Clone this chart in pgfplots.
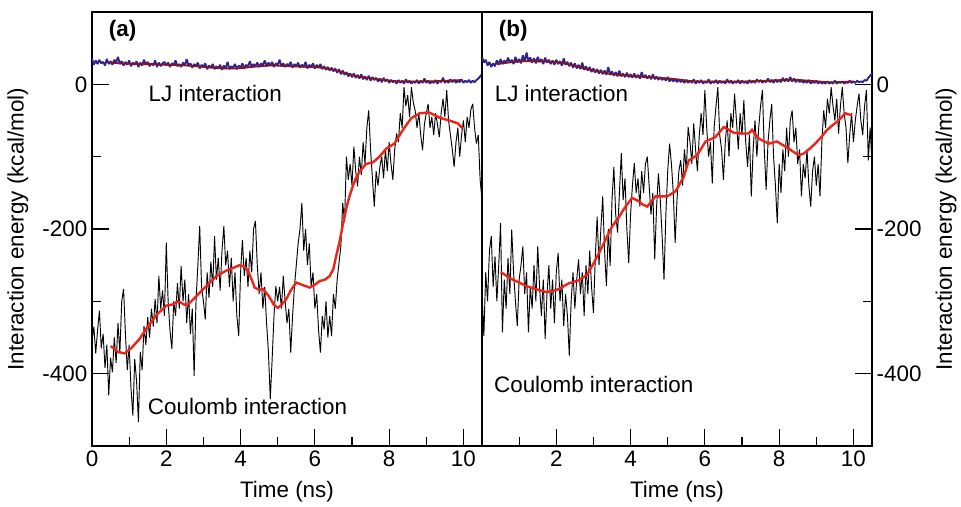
\documentclass[border=0pt]{standalone}
\usepackage{pgfplots}
\pgfplotsset{compat=1.18}
\usepackage{fontspec}
\setmainfont{Liberation Sans}
\definecolor{ljblue}{RGB}{52,34,140}
\definecolor{ljred}{RGB}{130,20,40}
\definecolor{coulred}{RGB}{240,35,25}
\pgfplotsset{
  panel/.style={
    width=292.5pt, height=325.5pt, scale only axis,
    xmin=0, xmax=10.5, ymin=-500, ymax=100,
    axis line style={line width=1.1pt},
    tick style={line width=0.9pt, black},
    tick align=inside,
    major tick length=12.5pt, minor tick length=6.5pt,
    minor xtick={1,3,5,7,9},
    ytick={-400,-200,0}, minor ytick={-300,-100},
    font=\fontsize{16.8}{20}\selectfont,
    /pgf/number format/assume math mode=true,
    xlabel={Time (ns)},
    ylabel={Interaction energy (kcal/mol)},
    xlabel style={at={(axis description cs:0.5,-0.106)}, anchor=center},
    clip=true,
  },
  blk/.style={black, line width=0.7pt, line join=bevel},
  lj/.style={ljblue, line width=1.4pt, line join=bevel},
}
\begin{document}
\begin{tikzpicture}
\path (-69pt,-43.5pt) rectangle (651.75pt,334.5pt);
% ---------------- panel (a)
\begin{axis}[panel, at={(0,0)}, anchor=south west,
  xtick={0,2,4,6,8,10}, xtick pos=left, ytick pos=left,
  ylabel style={at={(axis description cs:-0.19,0.5)}, anchor=center, rotate=0}]
\addplot[lj] coordinates {(0.00,36)(0.05,27)(0.10,33)(0.15,28)(0.20,34)(0.25,29)(0.30,31)(0.35,26)(0.40,35)(0.45,28)(0.50,32)(0.55,27)(0.60,34)(0.65,30)(0.70,38)(0.75,28)(0.80,32)(0.85,26)(0.90,31)(0.95,27)(1.00,33)(1.05,25)(1.10,30)(1.15,27)(1.20,32)(1.25,24)(1.30,30)(1.35,26)(1.40,34)(1.45,27)(1.50,31)(1.55,25)(1.60,29)(1.65,26)(1.70,33)(1.75,24)(1.80,30)(1.85,25)(1.90,29)(1.95,31)(2.00,26)(2.05,30)(2.10,24)(2.15,29)(2.20,27)(2.25,33)(2.30,25)(2.35,28)(2.40,24)(2.45,30)(2.50,26)(2.55,35)(2.60,25)(2.65,29)(2.70,23)(2.75,28)(2.80,25)(2.85,30)(2.90,22)(2.95,27)(3.00,24)(3.05,29)(3.10,21)(3.15,26)(3.20,23)(3.25,28)(3.30,21)(3.35,25)(3.40,22)(3.45,27)(3.50,20)(3.55,26)(3.60,22)(3.65,31)(3.70,21)(3.75,25)(3.80,23)(3.85,28)(3.90,21)(3.95,26)(4.00,23)(4.05,29)(4.10,22)(4.15,27)(4.20,24)(4.25,32)(4.30,24)(4.35,28)(4.40,25)(4.45,30)(4.50,24)(4.55,29)(4.60,26)(4.65,33)(4.70,25)(4.75,30)(4.80,26)(4.85,31)(4.90,24)(4.95,29)(5.00,27)(5.05,34)(5.10,25)(5.15,29)(5.20,24)(5.25,28)(5.30,26)(5.35,31)(5.40,23)(5.45,28)(5.50,25)(5.55,30)(5.60,23)(5.65,27)(5.70,24)(5.75,31)(5.80,22)(5.85,27)(5.90,24)(5.95,29)(6.00,22)(6.05,27)(6.10,23)(6.15,28)(6.20,21)(6.25,25)(6.30,20)(6.35,24)(6.40,19)(6.45,23)(6.50,18)(6.55,22)(6.60,16)(6.65,21)(6.70,14)(6.75,19)(6.80,13)(6.85,17)(6.90,11)(6.95,15)(7.00,10)(7.05,15)(7.10,9)(7.15,13)(7.20,8)(7.25,14)(7.30,7)(7.35,11)(7.40,6)(7.45,12)(7.50,5)(7.55,10)(7.60,6)(7.65,9)(7.70,4)(7.75,8)(7.80,3)(7.85,9)(7.90,4)(7.95,7)(8.00,2)(8.05,6)(8.10,3)(8.15,5)(8.20,1)(8.25,6)(8.30,2)(8.35,5)(8.40,1)(8.45,7)(8.50,2)(8.55,5)(8.60,1)(8.65,4)(8.70,2)(8.75,6)(8.80,1)(8.85,5)(8.90,2)(8.95,8)(9.00,2)(9.05,5)(9.10,1)(9.15,4)(9.20,2)(9.25,6)(9.30,1)(9.35,5)(9.40,3)(9.45,9)(9.50,2)(9.55,5)(9.60,2)(9.65,7)(9.70,3)(9.75,6)(9.80,2)(9.85,5)(9.90,3)(9.95,7)(10.00,2)(10.05,5)(10.10,3)(10.15,6)(10.20,2)(10.25,5)(10.30,3)(10.35,6)(10.40,8)(10.45,11)(10.50,14)};
\addplot[ljred, line width=1.3pt, smooth] coordinates {(0.5,30)(0.78,29)(1.2,28)(1.6,28)(2.0,27)(2.57,26)(3.0,24)(3.5,22)(3.92,22)(4.3,24)(4.82,26)(5.3,25)(5.8,24)(6.16,23)(6.5,20)(6.8,16)(7.06,12)(7.4,9)(7.7,7)(7.96,5.5)(8.3,4)(8.85,4)(9.3,4.5)(9.75,5.5)(9.95,6)};
\addplot[blk] coordinates {(0.00,-355)(0.05,-335)(0.10,-372)(0.15,-340)(0.20,-313)(0.25,-365)(0.30,-345)(0.35,-392)(0.40,-360)(0.45,-430)(0.50,-378)(0.55,-398)(0.60,-350)(0.65,-385)(0.70,-330)(0.75,-372)(0.80,-300)(0.85,-283)(0.90,-345)(0.95,-395)(1.00,-360)(1.05,-420)(1.10,-458)(1.15,-380)(1.20,-410)(1.25,-467)(1.30,-370)(1.35,-395)(1.40,-334)(1.45,-360)(1.50,-322)(1.55,-350)(1.60,-310)(1.65,-335)(1.70,-297)(1.75,-330)(1.80,-265)(1.85,-310)(1.90,-285)(1.95,-320)(2.00,-219)(2.05,-300)(2.10,-340)(2.15,-366)(2.20,-300)(2.25,-320)(2.30,-275)(2.35,-310)(2.40,-251)(2.45,-300)(2.50,-270)(2.55,-330)(2.60,-290)(2.65,-345)(2.70,-310)(2.75,-403)(2.80,-300)(2.85,-250)(2.90,-196)(2.95,-280)(3.00,-300)(3.05,-325)(3.10,-260)(3.15,-295)(3.20,-245)(3.25,-280)(3.30,-210)(3.35,-270)(3.40,-240)(3.45,-285)(3.50,-230)(3.55,-196)(3.60,-250)(3.65,-230)(3.70,-280)(3.75,-240)(3.80,-300)(3.85,-260)(3.90,-320)(3.95,-348)(4.00,-260)(4.05,-215)(4.10,-265)(4.15,-240)(4.20,-280)(4.25,-230)(4.30,-260)(4.35,-200)(4.40,-189)(4.45,-250)(4.50,-290)(4.55,-260)(4.60,-310)(4.65,-280)(4.70,-330)(4.75,-370)(4.80,-435)(4.85,-380)(4.90,-320)(4.95,-279)(5.00,-300)(5.05,-280)(5.10,-310)(5.15,-265)(5.20,-300)(5.25,-330)(5.30,-310)(5.35,-371)(5.40,-320)(5.45,-280)(5.50,-250)(5.55,-220)(5.60,-200)(5.65,-164)(5.70,-230)(5.75,-200)(5.80,-250)(5.85,-220)(5.90,-280)(5.95,-260)(6.00,-310)(6.05,-290)(6.10,-340)(6.15,-371)(6.20,-320)(6.25,-339)(6.30,-300)(6.35,-350)(6.40,-320)(6.45,-348)(6.50,-290)(6.55,-310)(6.60,-270)(6.65,-247)(6.70,-224)(6.75,-164)(6.80,-190)(6.85,-100)(6.90,-132)(6.95,-110)(7.00,-140)(7.05,-86)(7.10,-120)(7.15,-141)(7.20,-100)(7.25,-125)(7.30,-80)(7.35,-110)(7.40,-60)(7.45,-36)(7.50,-90)(7.55,-130)(7.60,-169)(7.65,-120)(7.70,-140)(7.75,-114)(7.80,-100)(7.85,-130)(7.90,-90)(7.95,-120)(8.00,-80)(8.05,-110)(8.10,-132)(8.15,-90)(8.20,-68)(8.25,-80)(8.30,-40)(8.35,-60)(8.40,-4)(8.45,-30)(8.50,-15)(8.55,-45)(8.60,-4)(8.65,-25)(8.70,-36)(8.75,-60)(8.80,-40)(8.85,-70)(8.90,-91)(8.95,-55)(9.00,-40)(9.05,-27)(9.10,-60)(9.15,-45)(9.20,-70)(9.25,-40)(9.30,-55)(9.35,-73)(9.40,-40)(9.45,-20)(9.50,-45)(9.55,-8)(9.60,-50)(9.65,-70)(9.70,-90)(9.75,-114)(9.80,-80)(9.85,-60)(9.90,-100)(9.95,-70)(10.00,-50)(10.05,-80)(10.10,-45)(10.15,-60)(10.20,-35)(10.25,-27)(10.30,-60)(10.35,-82)(10.40,-70)(10.45,-132)(10.50,-160)};
\addplot[coulred, line width=1.8pt] coordinates {(0.5,-362)(0.56,-364)(0.7,-370)(0.88,-372)(1.05,-365)(1.28,-352)(1.5,-335)(1.75,-318)(2.0,-306)(2.2,-304)(2.3,-300)(2.4,-302)(2.5,-305)(2.59,-304)(2.75,-296)(2.9,-288)(3.1,-278)(3.35,-265)(3.6,-258)(3.79,-254)(3.97,-250)(4.1,-252)(4.2,-258)(4.3,-270)(4.38,-281)(4.5,-284)(4.6,-283)(4.75,-292)(4.9,-305)(5.0,-309)(5.1,-305)(5.23,-297)(5.35,-285)(5.5,-274)(5.7,-278)(5.86,-281)(6.0,-277)(6.13,-272)(6.27,-270)(6.4,-265)(6.5,-255)(6.57,-238)(6.66,-219)(6.75,-195)(6.84,-173)(6.93,-155)(7.02,-141)(7.1,-130)(7.2,-121)(7.38,-110)(7.56,-108)(7.74,-100)(7.92,-89)(8.14,-82)(8.37,-63)(8.59,-47)(8.82,-40)(9.08,-39)(9.2,-42)(9.35,-46)(9.62,-50)(9.85,-54)(9.98,-61)};
\node[anchor=west, font=\fontsize{16.8}{20}\selectfont\bfseries] at (axis cs:0.33,74) {(a)};
\node[anchor=west] at (axis cs:1.4,-12) {LJ interaction};
\node[anchor=west] at (axis cs:1.38,-446) {Coulomb interaction};
\end{axis}
% ---------------- panel (b)
\begin{axis}[panel, at={(292.5pt,0)}, anchor=south west,
  xtick={2,4,6,8,10}, xtick pos=left, ytick pos=right, yticklabel pos=right,
  ylabel style={at={(axis description cs:1.19,0.5)}, anchor=center, rotate=0}]
\addplot[lj] coordinates {(0.00,38)(0.05,30)(0.10,34)(0.15,26)(0.20,31)(0.25,24)(0.30,29)(0.35,25)(0.40,33)(0.45,27)(0.50,35)(0.55,28)(0.60,33)(0.65,29)(0.70,37)(0.75,30)(0.80,34)(0.85,28)(0.90,38)(0.95,30)(1.00,35)(1.05,29)(1.10,40)(1.15,31)(1.20,44)(1.25,32)(1.30,37)(1.35,30)(1.40,36)(1.45,29)(1.50,38)(1.55,31)(1.60,35)(1.65,28)(1.70,37)(1.75,30)(1.80,34)(1.85,28)(1.90,33)(1.95,27)(2.00,34)(2.05,28)(2.10,32)(2.15,26)(2.20,36)(2.25,27)(2.30,31)(2.35,25)(2.40,30)(2.45,23)(2.50,29)(2.55,22)(2.60,27)(2.65,21)(2.70,30)(2.75,20)(2.80,25)(2.85,19)(2.90,24)(2.95,17)(3.00,22)(3.05,16)(3.10,21)(3.15,15)(3.20,20)(3.25,14)(3.30,19)(3.35,13)(3.40,24)(3.45,13)(3.50,18)(3.55,12)(3.60,17)(3.65,11)(3.70,19)(3.75,11)(3.80,15)(3.85,10)(3.90,16)(3.95,10)(4.00,14)(4.05,9)(4.10,15)(4.15,9)(4.20,13)(4.25,8)(4.30,17)(4.35,9)(4.40,13)(4.45,8)(4.50,12)(4.55,7)(4.60,14)(4.65,7)(4.70,11)(4.75,6)(4.80,10)(4.85,6)(4.90,9)(4.95,5)(5.00,10)(5.05,4)(5.10,8)(5.15,4)(5.20,7)(5.25,3)(5.30,7)(5.35,3)(5.40,6)(5.45,2)(5.50,6)(5.55,2)(5.60,5)(5.65,2)(5.70,7)(5.75,1)(5.80,5)(5.85,2)(5.90,6)(5.95,1)(6.00,4)(6.05,2)(6.10,7)(6.15,1)(6.20,4)(6.25,2)(6.30,6)(6.35,1)(6.40,5)(6.45,2)(6.50,4)(6.55,1)(6.60,7)(6.65,2)(6.70,5)(6.75,1)(6.80,4)(6.85,2)(6.90,6)(6.95,1)(7.00,5)(7.05,2)(7.10,4)(7.15,1)(7.20,6)(7.25,2)(7.30,5)(7.35,2)(7.40,7)(7.45,3)(7.50,6)(7.55,2)(7.60,5)(7.65,3)(7.70,8)(7.75,3)(7.80,6)(7.85,2)(7.90,7)(7.95,3)(8.00,6)(8.05,3)(8.10,9)(8.15,4)(8.20,8)(8.25,4)(8.30,10)(8.35,4)(8.40,8)(8.45,3)(8.50,7)(8.55,3)(8.60,6)(8.65,2)(8.70,5)(8.75,2)(8.80,6)(8.85,1)(8.90,4)(8.95,2)(9.00,5)(9.05,1)(9.10,4)(9.15,1)(9.20,3)(9.25,1)(9.30,4)(9.35,1)(9.40,3)(9.45,1)(9.50,5)(9.55,1)(9.60,3)(9.65,2)(9.70,4)(9.75,1)(9.80,3)(9.85,2)(9.90,5)(9.95,2)(10.00,4)(10.05,2)(10.10,5)(10.15,3)(10.20,4)(10.25,3)(10.30,6)(10.35,5)(10.40,9)(10.45,12)(10.50,15)};
\addplot[ljred, line width=1.3pt, smooth] coordinates {(0.4,28)(0.7,30)(1.0,31.5)(1.21,32)(1.6,31.5)(1.93,31)(2.3,28)(2.6,24)(2.83,21)(3.2,17)(3.5,14)(3.9,12)(4.3,10.5)(4.7,9)(5.06,8)(5.4,6)(5.78,4)(6.4,4)(7.04,4)(7.7,5)(8.1,6)(8.38,6.5)(8.8,5)(9.37,3)(10.0,4)};
\addplot[blk] coordinates {(0.00,-288)(0.05,-348)(0.10,-260)(0.15,-300)(0.20,-230)(0.25,-210)(0.30,-280)(0.35,-238)(0.40,-300)(0.45,-250)(0.50,-192)(0.55,-343)(0.60,-270)(0.65,-310)(0.70,-240)(0.75,-290)(0.80,-201)(0.85,-260)(0.90,-300)(0.95,-334)(1.00,-270)(1.05,-250)(1.10,-224)(1.15,-290)(1.20,-260)(1.25,-343)(1.30,-280)(1.35,-310)(1.40,-250)(1.45,-300)(1.50,-224)(1.55,-280)(1.60,-320)(1.65,-270)(1.70,-352)(1.75,-290)(1.80,-250)(1.85,-310)(1.90,-270)(1.95,-330)(2.00,-260)(2.05,-233)(2.10,-300)(2.15,-270)(2.20,-334)(2.25,-290)(2.30,-320)(2.35,-375)(2.40,-300)(2.45,-260)(2.50,-310)(2.55,-270)(2.60,-242)(2.65,-290)(2.70,-260)(2.75,-320)(2.80,-250)(2.85,-290)(2.90,-230)(2.95,-280)(3.00,-316)(3.05,-240)(3.10,-183)(3.15,-250)(3.20,-200)(3.25,-155)(3.30,-230)(3.35,-279)(3.40,-200)(3.45,-251)(3.50,-160)(3.55,-114)(3.60,-180)(3.65,-205)(3.70,-150)(3.75,-95)(3.80,-160)(3.85,-130)(3.90,-200)(3.95,-247)(4.00,-180)(4.05,-140)(4.10,-109)(4.15,-150)(4.20,-130)(4.25,-169)(4.30,-120)(4.35,-150)(4.40,-110)(4.45,-100)(4.50,-140)(4.55,-180)(4.60,-150)(4.65,-242)(4.70,-170)(4.75,-123)(4.80,-160)(4.85,-210)(4.90,-270)(4.95,-180)(5.00,-120)(5.05,-82)(5.10,-110)(5.15,-150)(5.20,-219)(5.25,-160)(5.30,-120)(5.35,-105)(5.40,-140)(5.45,-90)(5.50,-120)(5.55,-59)(5.60,-80)(5.65,-110)(5.70,-54)(5.75,-90)(5.80,-120)(5.85,-70)(5.90,-40)(5.95,-70)(6.00,-8)(6.05,-60)(6.10,-100)(6.15,-80)(6.20,-137)(6.25,-60)(6.30,-30)(6.35,-4)(6.40,-70)(6.45,-90)(6.50,-132)(6.55,-80)(6.60,-50)(6.65,-100)(6.70,-40)(6.75,-60)(6.80,-13)(6.85,-50)(6.90,-90)(6.95,-40)(7.00,-70)(7.05,-22)(7.10,-80)(7.15,-114)(7.20,-70)(7.25,-155)(7.30,-90)(7.35,-50)(7.40,-100)(7.45,-60)(7.50,-30)(7.55,-8)(7.60,-90)(7.65,-146)(7.70,-80)(7.75,-50)(7.80,-27)(7.85,-100)(7.90,-140)(7.95,-192)(8.00,-110)(8.05,-150)(8.10,-90)(8.15,-120)(8.20,-60)(8.25,-100)(8.30,-50)(8.35,-36)(8.40,-80)(8.45,-60)(8.50,-110)(8.55,-90)(8.60,-155)(8.65,-110)(8.70,-130)(8.75,-90)(8.80,-140)(8.85,-169)(8.90,-120)(8.95,-100)(9.00,-140)(9.05,-110)(9.10,-155)(9.15,-80)(9.20,-36)(9.25,-60)(9.30,-20)(9.35,-40)(9.40,-4)(9.45,-30)(9.50,-50)(9.55,-20)(9.60,-68)(9.65,-30)(9.70,-4)(9.75,-40)(9.80,-60)(9.85,-109)(9.90,-70)(9.95,-40)(10.00,-80)(10.05,-50)(10.10,-30)(10.15,-13)(10.20,-50)(10.25,-70)(10.30,-30)(10.35,-8)(10.40,-105)(10.45,-60)(10.50,-110)};
\addplot[coulred, line width=1.8pt] coordinates {(0.5,-260)(0.55,-261)(0.75,-268)(1.0,-274)(1.2,-279)(1.45,-283)(1.71,-287)(1.9,-286)(2.07,-283)(2.34,-275)(2.61,-271)(2.83,-263)(3.01,-247)(3.24,-224)(3.42,-205)(3.51,-196)(3.69,-183)(3.85,-170)(4.04,-157)(4.2,-161)(4.32,-166)(4.45,-169)(4.67,-155)(4.98,-155)(5.21,-148)(5.43,-128)(5.57,-105)(5.79,-98)(6.02,-79)(6.28,-73)(6.51,-59)(6.78,-67)(7.0,-68)(7.18,-68)(7.27,-63)(7.45,-75)(7.72,-82)(7.94,-79)(8.1,-84)(8.26,-89)(8.52,-98)(8.65,-96)(8.8,-90)(8.97,-82)(9.15,-72)(9.29,-63)(9.45,-56)(9.6,-50)(9.78,-40)(9.96,-43)};
\node[anchor=west, font=\fontsize{16.8}{20}\selectfont\bfseries] at (axis cs:0.33,74) {(b)};
\node[anchor=west] at (axis cs:0.22,-12) {LJ interaction};
\node[anchor=west] at (axis cs:0.2,-415) {Coulomb interaction};
\end{axis}
\end{tikzpicture}
\end{document}
